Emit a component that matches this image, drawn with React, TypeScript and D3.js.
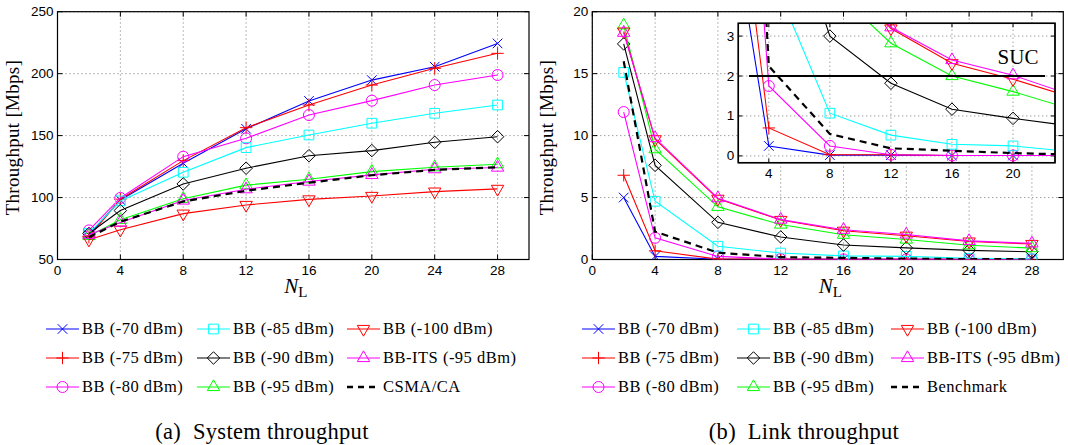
import * as d3 from 'd3';

// x positions (number of links N_L)
const nodes = [2, 4, 8, 12, 16, 20, 24, 28];
const xTicks = [0, 4, 8, 12, 16, 20, 24, 28];
const sysTicks = [50, 100, 150, 200, 250];
const linkTicks = [0, 5, 10, 15, 20];
const insetXTicks = [4, 8, 12, 16, 20];
const insetYTicks = [0, 1, 2, 3];

// (a) system throughput [Mbps]
const sys70 = [70, 98, 127.7, 155.5, 178, 194.8, 205.6, 224.4];
const sys75 = [68, 98.7, 129.8, 156.4, 174.7, 190.8, 204.3, 216.4];
const sys80 = [73.5, 99.7, 133, 147.8, 166.6, 178.2, 190.8, 198.9];
const sys85 = [71, 97.3, 120.4, 140.3, 150.5, 160, 168, 174.7];
const sys90 = [71, 89.5, 111, 123.7, 133.8, 137.9, 144.6, 149.1];
const sys95 = [69, 82, 99, 110, 114.8, 120.9, 124.5, 126.9];
const sys100 = [66, 74, 87, 94, 98.5, 101.3, 104.8, 107];
const sysIts = [70, 79.8, 97.6, 106.7, 112.9, 118.3, 122.9, 124.2];
const sysCsma = [68, 80.5, 96.8, 105.5, 112, 118, 122.3, 124.5];

// (b) link throughput [Mbps]
const link70 = [5.0, 0.25, 0.02, 0.02, 0.01, 0.01, 0.01, 0.01];
const link75 = [6.8, 0.7, 0.03, 0.03, 0.01, 0.01, 0.01, 0.01];
const link80 = [11.9, 1.75, 0.25, 0.03, 0.01, 0.01, 0.01, 0.01];
const link85 = [15.1, 4.7, 1.07, 0.52, 0.29, 0.25, 0.1, 0.05];
const link90 = [17.4, 7.6, 3.0, 1.82, 1.17, 0.94, 0.74, 0.62];
const link95 = [18.9, 8.9, 4.25, 2.82, 2.0, 1.61, 1.15, 0.92];
const link100 = [18.4, 9.7, 4.9, 3.19, 2.32, 1.92, 1.45, 1.25];
const linkIts = [18.3, 9.8, 4.95, 3.22, 2.4, 2.02, 1.5, 1.3];
const linkBench = [16, 2.25, 0.55, 0.19, 0.13, 0.07, 0.03, 0.02];

const sucLevel = 2;
const sucSpan = [2.7, 22.1];

const labels = ['BB (-70 dBm)', 'BB (-75 dBm)', 'BB (-80 dBm)', 'BB (-85 dBm)', 'BB (-90 dBm)', 'BB (-95 dBm)', 'BB (-100 dBm)', 'BB-ITS (-95 dBm)'];
const colors = ['#0000ff', '#ff0000', '#ff00ff', '#00ffff', '#000000', '#00ff00', '#ff0000', '#ff00ff', '#000000'];
const markers = ['x', '+', 'o', 's', 'd', '^', 'v', '^', ''];

const sysSeries = [sys70, sys75, sys80, sys85, sys90, sys95, sys100, sysIts, sysCsma];
const linkSeries = [link70, link75, link80, link85, link90, link95, link100, linkIts, linkBench];

const SANS = 'Liberation Sans, Arial, sans-serif';
const SERIF = 'Liberation Serif, Times New Roman, serif';

function markerPath(m: string) {
  switch (m) {
    case 'x': return d3.symbol(d3.symbolTimes, 62)();
    case '+': return d3.symbol(d3.symbolPlus, 52)();
    case 'o': return d3.symbol(d3.symbolCircle, 95)();
    case 's': return d3.symbol(d3.symbolSquare2, 120)();
    case 'd': return d3.symbol(d3.symbolDiamond2, 100)();
    case '^':
    case 'v': return d3.symbol(d3.symbolTriangle2, 110)();
    default: return null;
  }
}

function Marker({ m, x, y, color }: { m: string; x: number; y: number; color: string }) {
  const p = markerPath(m);
  if (!p) return null;
  const rot = m === 'v' ? ' rotate(180)' : '';
  return <path d={p} transform={`translate(${x},${y})${rot}`} fill="none" stroke={color} strokeWidth={1} />;
}

function Series({ values, i, x, y, clip }: any) {
  const line = d3.line<number>().x((_, k) => x(nodes[k])).y(d => y(d));
  const dashed = markers[i] === '';
  return (
    <g clipPath={clip}>
      <path d={line(values) || ''} fill="none" stroke={colors[i]}
        strokeWidth={dashed ? 2.2 : 1.1} strokeDasharray={dashed ? '7,5' : undefined} />
      {values.map((v: number, k: number) => (
        <Marker key={k} m={markers[i]} x={x(nodes[k])} y={y(v)} color={colors[i]} />
      ))}
    </g>
  );
}

function Frame({ x, y, xt, yt, tickLen = 5 }: any) {
  const [x0, x1] = x.range();
  const [y0, y1] = y.range();
  return (
    <g>
      {xt.map((t: number) => (
        <g key={'x' + t}>
          <line x1={x(t)} x2={x(t)} y1={y0} y2={y1} stroke="#777" strokeDasharray="1,3" />
          <line x1={x(t)} x2={x(t)} y1={y0} y2={y0 - tickLen} stroke="#000" />
          <line x1={x(t)} x2={x(t)} y1={y1} y2={y1 + tickLen} stroke="#000" />
          <text x={x(t)} y={y0 + 15} textAnchor="middle" fontFamily={SANS} fontSize={13.5}>{t}</text>
        </g>
      ))}
      {yt.map((t: number) => (
        <g key={'y' + t}>
          <line x1={x0} x2={x1} y1={y(t)} y2={y(t)} stroke="#777" strokeDasharray="1,3" />
          <line x1={x0} x2={x0 + tickLen} y1={y(t)} y2={y(t)} stroke="#000" />
          <line x1={x1} x2={x1 - tickLen} y1={y(t)} y2={y(t)} stroke="#000" />
          <text x={x0 - 4} y={y(t) + 4.5} textAnchor="end" fontFamily={SANS} fontSize={13.5}>{t}</text>
        </g>
      ))}
      <rect x={x0} y={y1} width={x1 - x0} height={y0 - y1} fill="none" stroke="#000" strokeWidth={1.2} />
    </g>
  );
}

function Panel({ left, right, yDomain, yt, series, id }: any) {
  const x = d3.scaleLinear().domain([0, 30]).range([left, right]);
  const y = d3.scaleLinear().domain(yDomain).range([259.5, 11.7]);
  const [x0, x1] = x.range();
  const mid = (x0 + x1) / 2;
  return (
    <g>
      <rect x={x0} y={11.7} width={x1 - x0} height={259.5 - 11.7} fill="#fff" />
      <Frame x={x} y={y} xt={xTicks} yt={yt} />
      <defs>
        <clipPath id={id}><rect x={x0} y={11.7} width={x1 - x0} height={259.5 - 11.7} /></clipPath>
      </defs>
      {series.map((s: number[], i: number) => (
        <Series key={i} values={s} i={i} x={x} y={y} clip={`url(#${id})`} />
      ))}
      <text x={mid - 9} y={293} fontFamily={SERIF} fontSize={21} fontStyle="italic">N
        <tspan fontStyle="normal" fontSize={15} dy={4}>L</tspan>
      </text>
      <text transform={`translate(${x0 - 39},${(11.7 + 259.5) / 2 + 2}) rotate(-90)`} textAnchor="middle"
        fontFamily={SERIF} fontSize={19} letterSpacing={0.3}>Throughput [Mbps]</text>
    </g>
  );
}

function Inset() {
  const x = d3.scaleLinear().domain([2, 22.75]).range([738.3, 1055]);
  const y = d3.scaleLinear().domain([-0.17, 3.32]).range([162.7, 23.3]);
  const [x0, x1] = x.range();
  const [y0, y1] = y.range();
  return (
    <g>
      <rect x={x0} y={y1} width={x1 - x0} height={y0 - y1} fill="#fff" />
      <Frame x={x} y={y} xt={insetXTicks} yt={insetYTicks} tickLen={4} />
      <defs>
        <clipPath id="insetClip"><rect x={x0} y={y1} width={x1 - x0} height={y0 - y1} /></clipPath>
      </defs>
      {linkSeries.map((s, i) => (
        <Series key={i} values={s} i={i} x={x} y={y} clip="url(#insetClip)" />
      ))}
      <line x1={x(sucSpan[0])} x2={x(sucSpan[1])} y1={y(sucLevel)} y2={y(sucLevel)} stroke="#000" strokeWidth={2.2} />
      <text x={1018} y={64} textAnchor="middle" fontFamily={SERIF} fontSize={21}>SUC</text>
      <rect x={x0} y={y1} width={x1 - x0} height={y0 - y1} fill="none" stroke="#000" strokeWidth={1.5} />
    </g>
  );
}

function Legend({ cols, last }: { cols: number[]; last: string }) {
  const rows = [329, 358, 387];
  const names = [...labels, last];
  return (
    <g>
      {names.map((name, i) => {
        const cx = cols[Math.floor(i / 3)];
        const cy = rows[i % 3];
        const dashed = markers[i] === '';
        return (
          <g key={i}>
            <line x1={cx} x2={cx + 33} y1={cy} y2={cy} stroke={colors[i]}
              strokeWidth={dashed ? 2.4 : 1.2} strokeDasharray={dashed ? '6,5' : undefined} />
            <Marker m={markers[i]} x={cx + 16.5} y={cy} color={colors[i]} />
            <text x={cx + 36} y={cy + 5} fontFamily={SERIF} fontSize={16.5} letterSpacing={0.5}>{name}</text>
          </g>
        );
      })}
    </g>
  );
}

export default function App() {
  return (
    <svg width={1068} height={445} style={{ position: 'absolute', left: 0, top: 0, background: '#fff' }}>
      <Panel left={57.5} right={529} yDomain={[50, 250]} yt={sysTicks} series={sysSeries} id="clipA" />
      <Panel left={592.3} right={1063.3} yDomain={[0, 20]} yt={linkTicks} series={linkSeries} id="clipB" />
      <Inset />
      <Legend cols={[46, 197, 347]} last="CSMA/CA" />
      <Legend cols={[582, 737, 891]} last="Benchmark" />
      <text x={262} y={439} textAnchor="middle" fontFamily={SERIF} fontSize={22.5} letterSpacing={0.3} xmlSpace="preserve">(a)  System throughput</text>
      <text x={804} y={439} textAnchor="middle" fontFamily={SERIF} fontSize={22.5} letterSpacing={0.3} xmlSpace="preserve">(b)  Link throughput</text>
    </svg>
  );
}
